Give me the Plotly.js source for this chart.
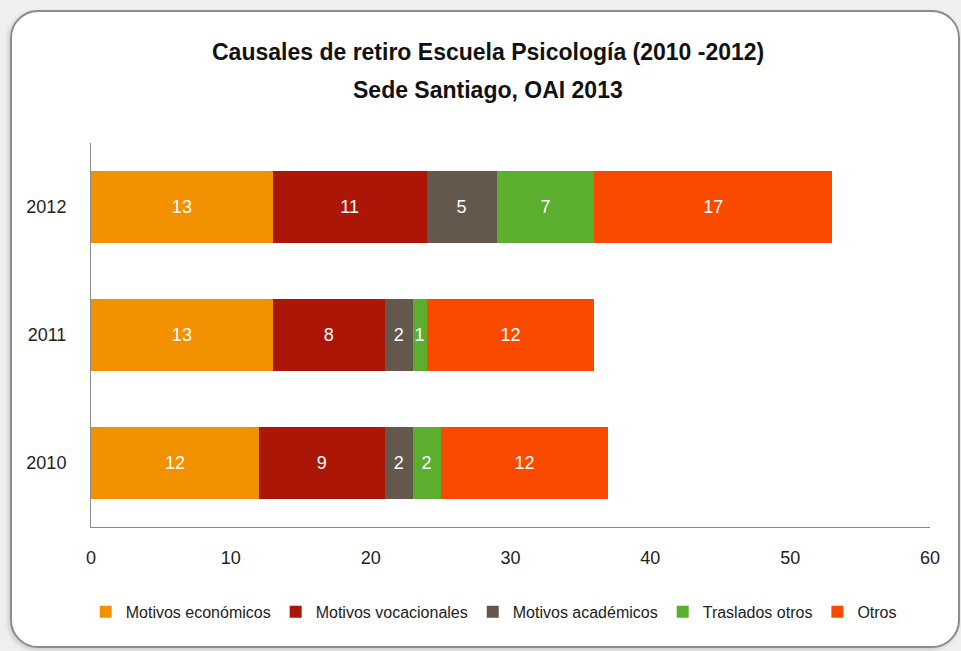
<!DOCTYPE html>
<html><head><meta charset="utf-8">
<script src="https://cdn.plot.ly/plotly-3.0.1.min.js"></script>
<style>
html,body{margin:0;padding:0;width:961px;height:651px;overflow:hidden;background:#efefef;}
#box{position:absolute;left:10px;top:10px;width:946px;height:634px;background:#fff;border:2px solid #8c8c8c;border-radius:28px;box-shadow:-2px 2px 4px rgba(0,0,0,0.15);}
#chart{position:absolute;left:0;top:0;width:961px;height:651px;}
</style></head>
<body><div id="box"></div><div id="chart"></div>
<script>
const years = ['2010','2011','2012'];
const seriesNames = ['Motivos económicos','Motivos vocacionales','Motivos académicos','Traslados otros','Otros'];
const economicos   = [12, 13, 13];
const vocacionales = [9, 8, 11];
const academicos   = [2, 2, 5];
const traslados    = [2, 1, 7];
const otros        = [12, 12, 17];
const xTicks = [0,10,20,30,40,50,60];
const colors = ['#F29100','#AC1607','#63584B','#5CAE2E','#FA4A00'];
const FONT = '"Liberation Sans",Arial,sans-serif';

const allVals = [economicos, vocacionales, academicos, traslados, otros];
const traces = allVals.map((v,i)=>({
  type:'bar', orientation:'h', name:seriesNames[i], y:years, x:v,
  marker:{color:colors[i], line:{width:0}},
  text:v.map(String), textposition:'inside', insidetextanchor:'middle',
  constraintext:'none', textfont:{color:'#ffffff', size:18, family:FONT},
  hoverinfo:'x+name'
}));

const layout = {
  width:961, height:651,
  paper_bgcolor:'rgba(0,0,0,0)', plot_bgcolor:'rgba(0,0,0,0)',
  margin:{l:91, r:31, t:143, b:124},
  barmode:'stack', bargap:0.4375,
  font:{family:FONT, color:'#222', size:17},
  showlegend:true,
  legend:{orientation:'h', x:0.48, xanchor:'center', y:-0.221, yanchor:'middle',
          font:{size:16, family:FONT, color:'#222'}, traceorder:'normal', itemwidth:30},
  xaxis:{range:[0,60], tickvals:xTicks, ticktext:xTicks.map(String), showgrid:false, zeroline:false,
         showline:true, linecolor:'#8a8a8a', linewidth:1, ticks:'', ticklen:0,
         tickfont:{size:18, color:'#222'}, ticklabelstandoff:14, fixedrange:true},
  yaxis:{type:'category', categoryorder:'array', categoryarray:years, range:[-0.5,2.5], showgrid:false, zeroline:false,
         showline:true, linecolor:'#8a8a8a', linewidth:1, ticks:'', ticklen:0,
         tickfont:{size:18, color:'#222'}, ticklabelstandoff:20},
  annotations:[
    {text:'<b>Causales de retiro Escuela Psicología (2010 -2012)</b>', xref:'paper', yref:'paper',
     x:0.473, y:1.237, xanchor:'center', yanchor:'middle', showarrow:false, font:{size:23, color:'#111', family:FONT}},
    {text:'<b>Sede Santiago, OAI 2013</b>', xref:'paper', yref:'paper',
     x:0.473, y:1.138, xanchor:'center', yanchor:'middle', showarrow:false, font:{size:23, color:'#111', family:FONT}}
  ]
};
Plotly.newPlot('chart', traces, layout, {displayModeBar:false, staticPlot:true});
</script></body></html>
